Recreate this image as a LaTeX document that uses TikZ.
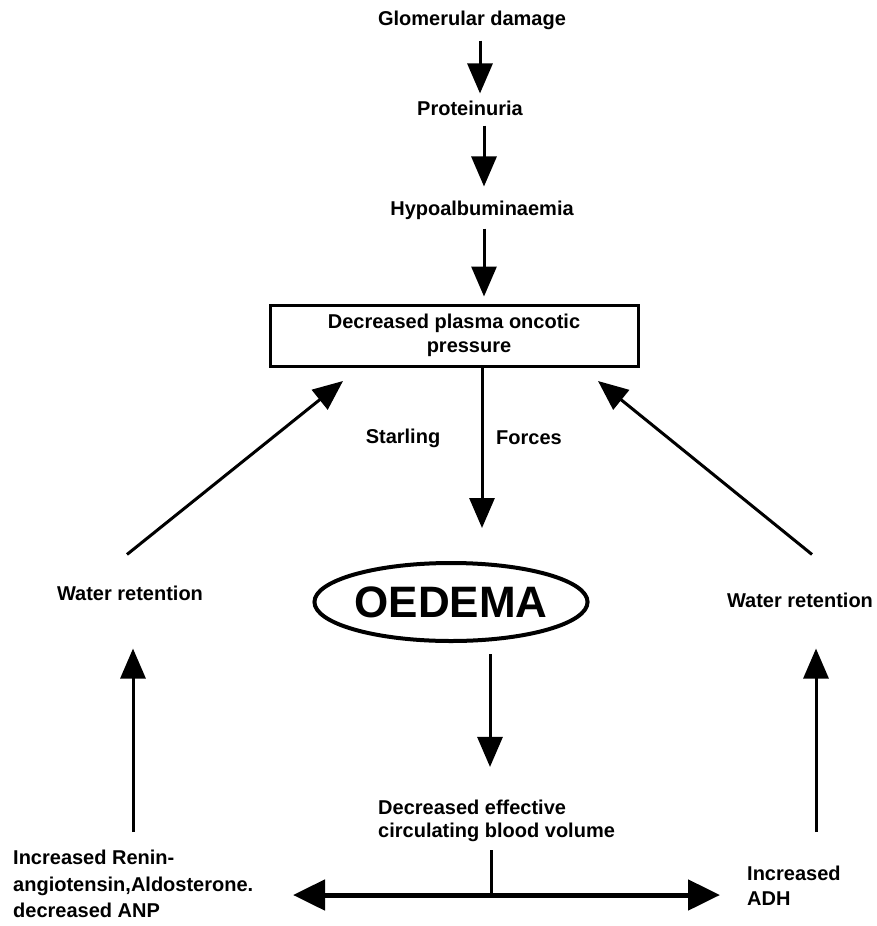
\documentclass[tikz,border=0pt]{standalone}
\usepackage{fontspec}
\setmainfont{Liberation Sans}
\usetikzlibrary{arrows.meta,shapes.geometric}
\begin{document}
\begin{tikzpicture}[x=1pt,y=-1pt,
  lbl/.style={font=\bfseries\fontsize{20}{24}\selectfont, inner sep=0pt},
  arr/.style={line width=3pt, -{Triangle[width=25pt,length=30pt]}},
  harr/.style={line width=5pt, -{Triangle[width=30pt,length=32pt]}},
  plain/.style={line width=3pt},
]
\useasboundingbox (0,0) rectangle (877,926);
\node[lbl] (glom) at (472,20) {Glomerular damage};
\node[lbl] (prot) at (470,108) {Proteinuria};
\node[lbl] (hypo) at (482,210) {Hypoalbuminaemia};
\node[draw, line width=3pt, minimum width=368pt, minimum height=61pt, lbl, align=center, inner sep=0pt] (box) at (454,335.5) {Decreased plasma oncotic\\\hspace*{30pt}pressure};
\node[lbl] (star) at (403,438) {Starling};
\node[lbl] (forc) at (529,438) {Forces};
\node[draw, ellipse, line width=4pt, minimum width=232pt, minimum height=78pt, inner sep=0pt, font=\bfseries\fontsize{44}{44}\selectfont] (oed) at (451,602) {OEDEMA};
\node[lbl] (wl) at (130,593) {Water retention};
\node[lbl] (wr) at (800,600) {Water retention};
\node[lbl, align=left, anchor=west, font=\bfseries\fontsize{20}{23}\selectfont] (dec) at (378,821) {Decreased effective\\circulating blood volume};
\node[lbl, align=left, anchor=north west, font=\bfseries\fontsize{20}{26.5}\selectfont] (ras) at (13,850) {Increased Renin-\\angiotensin,Aldosterone.\\decreased ANP};
\node[lbl, align=left, anchor=north west, font=\bfseries\fontsize{20}{25}\selectfont] (adh) at (747,866) {Increased\\ADH};
\coordinate (jn) at (491,895);
\coordinate (lt) at (293,895);
\coordinate (rt) at (720,895);
% top chain
\draw[arr, shorten <=11pt, shorten >=7pt] ([xshift=8pt]glom.south) -- ([xshift=10pt]prot.north);
\draw[arr, shorten <=10pt, shorten >=14pt] ([xshift=14pt]prot.south) -- ([xshift=2pt]hypo.north);
\draw[arr, shorten <=9pt, shorten >=7pt] ([xshift=2pt]hypo.south) -- ([xshift=30pt]box.north);
\draw[arr, shorten >=33pt] ([xshift=28pt]box.south) -- ([xshift=28pt]box.south |- oed.north);
\draw[arr, shorten <=11pt, shorten >=33pt] ([xshift=39pt]oed.south) -- ([xshift=39pt]oed.south |- dec.north);
% bottom split
\draw[plain, shorten <=8pt] (dec.south -| jn) -- (jn);
\draw[harr] (jn) -- (lt);
\draw[harr] (jn) -- (rt);
% side verticals
\draw[arr, shorten <=18pt, shorten >=48pt] ([xshift=3pt]wl.south |- ras.north) -- ([xshift=3pt]wl.south);
\draw[arr, shorten <=34pt, shorten >=41pt] ([xshift=16pt]wr.south |- adh.north) -- ([xshift=16pt]wr.south);
% diagonals
\draw[arr] ([shift={(-3,-31)}]wl.north) -- ([shift={(74.5,13.5)}]box.south west);
\draw[arr] ([shift={(12,-38)}]wr.north) -- ([shift={(-41.5,13.5)}]box.south east);
\end{tikzpicture}
\end{document}
